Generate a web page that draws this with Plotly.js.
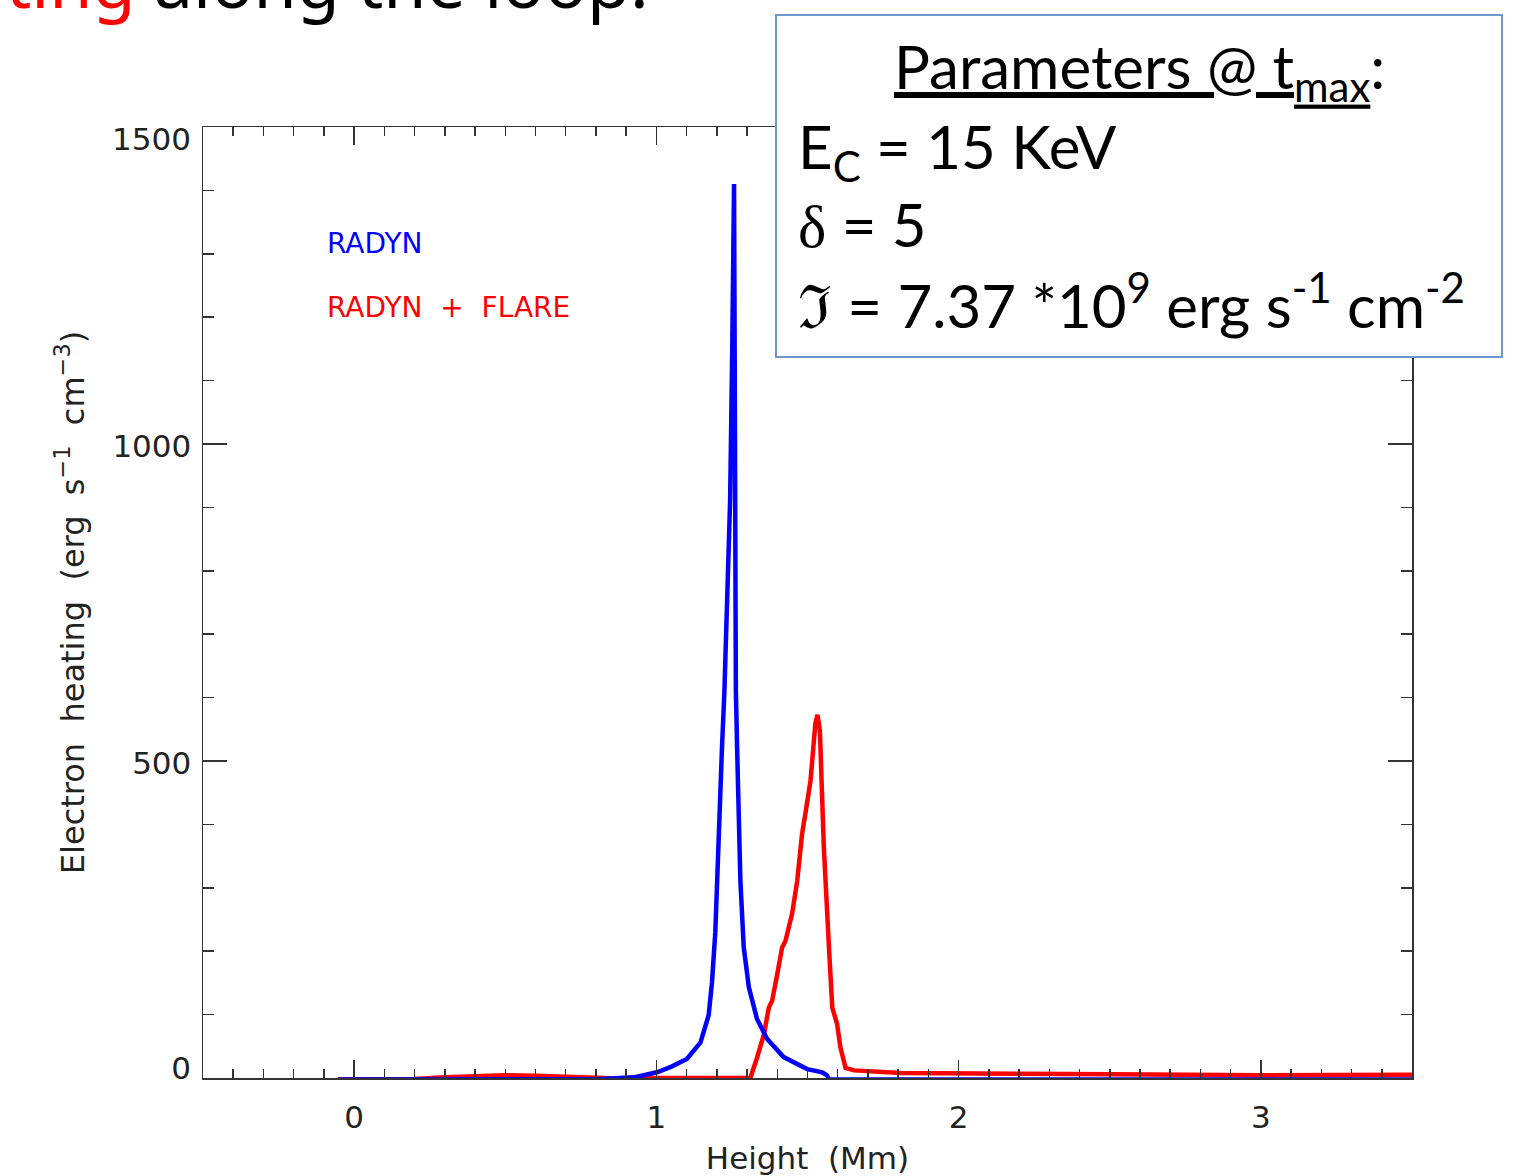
<!DOCTYPE html>
<html>
<head>
<meta charset="utf-8">
<script src="https://cdn.plot.ly/plotly-3.0.1.min.js"></script>
<style>html,body{margin:0;padding:0;background:#fff;}#chart{width:1540px;height:1176px;}</style>
</head>
<body>
<div id="chart"></div>
<script>
// ---- data ----
const radynHeight = [-0.053, 0.2, 0.5, 0.7, 0.815, 0.925, 1.002, 1.05, 1.101, 1.146, 1.173, 1.184, 1.195, 1.201, 1.206, 1.217, 1.225, 1.236, 1.244, 1.251, 1.257, 1.259, 1.261, 1.263, 1.267, 1.273, 1.278, 1.289, 1.306, 1.333, 1.366, 1.421, 1.499, 1.549, 1.565, 1.571, 2.0, 2.5, 3.0, 3.5];
const radynHeat   = [-2.5, -2.5, -2.5, -2.5, -1.5, 1, 9, 18, 30, 56, 99, 151, 230, 309, 388, 520, 609, 760, 911, 1150, 1410, 1150, 800, 611, 522, 417, 311, 206, 143, 93, 62, 33, 14, 9, 4, -2.5, -2.5, -2.5, -2.5, -2.5];

const flareHeight = [-0.053, 0.2, 0.3, 0.4, 0.5, 0.6, 0.7, 0.8, 0.9, 1.0, 1.2, 1.311, 1.333, 1.356, 1.372, 1.383, 1.400, 1.416, 1.427, 1.449, 1.466, 1.482, 1.493, 1.510, 1.526, 1.533, 1.541, 1.554, 1.571, 1.582, 1.598, 1.609, 1.626, 1.654, 1.808, 2.0, 2.5, 3.0, 3.2, 3.5];
const flareHeat   = [-2, -1.5, 1, 3.5, 4.5, 3.5, 1.5, 0, -1, 0, 0, 0, 32, 69, 111, 122, 164, 206, 216, 259, 311, 385, 417, 469, 559, 573, 548, 364, 206, 111, 85, 48, 16, 12, 8, 7, 6, 4.5, 4.5, 5];

const xTickVals = [0, 1, 2, 3];
const yTickVals = [0, 500, 1000, 1500];
const yTickMid = ['', '500', '1000', ''];
const yTickBottom = [0];
const yTickTop = [1500];
const seriesNames = ['RADYN', 'RADYN + FLARE'];

// ---- pixel -> paper helpers for overlay text/box ----
const L = 203, T = 127, W = 1209, H = 951;
const px = x => (x - L) / W;
const py = y => (T + H - y) / H;

const axisFont = {family: 'DejaVu Sans', size: 31, color: '#222'};
const boxFont = {family: 'Lato, "Open Sans", sans-serif', size: 60, color: '#000'};

const traces = [
  {x: flareHeight, y: flareHeat, name: seriesNames[1], type: 'scatter', mode: 'lines',
   line: {color: '#ff0000', width: 4.5}, cliponaxis: false},
  {x: radynHeight, y: radynHeat, name: seriesNames[0], type: 'scatter', mode: 'lines',
   line: {color: '#0000ff', width: 4.5}, cliponaxis: false},
  // empty carriers so the label-only overlay axes get drawn
  {x: [], y: [], yaxis: 'y2', type: 'scatter', mode: 'lines', hoverinfo: 'skip', showlegend: false},
  {x: [], y: [], yaxis: 'y3', type: 'scatter', mode: 'lines', hoverinfo: 'skip', showlegend: false}
];

const tickCommon = {ticks: 'inside', tickcolor: '#333', tickwidth: 1.5, showline: true,
  linecolor: '#333', linewidth: 1.5, mirror: 'ticks', showgrid: false, zeroline: false,
  tickfont: axisFont};

// overlay y axes that only carry the shifted edge labels (IDL places them inside the frame)
const labelOnly = (vals, shift) => ({
  overlaying: 'y', anchor: 'x', side: 'left', range: [0, 1500], tickmode: 'array', tickvals: vals,
  ticks: '', showline: false, showgrid: false, zeroline: false, tickfont: axisFont,
  ticklabelstandoff: 11, ticklabelshift: shift
});

const layout = {
  width: 1540, height: 1176,
  margin: {l: L, r: 1540 - L - W, t: T, b: 1176 - T - H, pad: 0},
  paper_bgcolor: '#fff', plot_bgcolor: '#fff',
  showlegend: false,
  xaxis: Object.assign({}, tickCommon, {
    range: [-0.5, 3.5], tickvals: xTickVals, ticklen: 18, ticklabelstandoff: 11,
    minor: {dtick: 0.1, tick0: 0, ticks: 'inside', ticklen: 9, tickwidth: 1.5, tickcolor: '#333', showgrid: false},
    title: {text: 'Height\u00a0\u00a0(Mm)', font: {family: 'DejaVu Sans', size: 31, color: '#222'}, standoff: 33}
  }),
  yaxis: Object.assign({}, tickCommon, {
    range: [0, 1500], tickvals: yTickVals, ticktext: yTickMid, ticklen: 24,
    ticklabelstandoff: 4, ticklabelshift: 2,
    minor: {dtick: 100, tick0: 0, ticks: 'inside', ticklen: 11, tickwidth: 1.5, tickcolor: '#333', showgrid: false},
    title: {text: 'Electron\u00a0\u00a0heating\u00a0\u00a0(erg\u00a0\u00a0s<sup>\u22121</sup>\u00a0\u00a0cm<sup>\u22123</sup>)', font: {family: 'DejaVu Sans', size: 32, color: '#222'}, standoff: 18}
  }),
  yaxis2: labelOnly(yTickBottom, -10),
  yaxis3: labelOnly(yTickTop, 12),
  shapes: [
    {type: 'rect', xref: 'paper', yref: 'paper', x0: px(776), x1: px(1502), y0: py(357), y1: py(15),
     fillcolor: '#ffffff', line: {color: '#6d97cf', width: 2}, layer: 'above'}
  ],
  annotations: [
    // clipped slide heading at the top
    {xref: 'paper', yref: 'paper', x: px(5), y: py(-19), xanchor: 'left', yanchor: 'middle', showarrow: false, borderpad: 0,
     text: '<span style="color:#ff0000">ting</span> along the loop.', font: {family: 'Noto Sans', size: 70, color: '#000'}},
    // legend labels
    {xref: 'paper', yref: 'paper', x: px(326), y: py(243), xanchor: 'left', yanchor: 'middle', showarrow: false, borderpad: 0,
     text: seriesNames[0], font: {family: 'DejaVu Sans', size: 28, color: '#0000ff'}},
    {xref: 'paper', yref: 'paper', x: px(326), y: py(307), xanchor: 'left', yanchor: 'middle', showarrow: false, borderpad: 0,
     text: 'RADYN\u00a0\u00a0+\u00a0\u00a0FLARE', font: {family: 'DejaVu Sans', size: 28, color: '#ff0000'}},
    // parameter box text
    {xref: 'paper', yref: 'paper', x: px(1139), y: py(71), xanchor: 'center', yanchor: 'middle', showarrow: false, borderpad: 0,
     text: '<u>Parameters @ t</u><sub><u>max</u></sub>:', font: boxFont},
    {xref: 'paper', yref: 'paper', x: px(797), y: py(151), xanchor: 'left', yanchor: 'middle', showarrow: false, borderpad: 0,
     text: 'E<sub>C</sub> = 15 KeV', font: boxFont},
    {xref: 'paper', yref: 'paper', x: px(797), y: py(224), xanchor: 'left', yanchor: 'middle', showarrow: false, borderpad: 0,
     text: '<span style="font-family:\'Liberation Serif\'">\u03b4</span> = 5', font: boxFont},
    {xref: 'paper', yref: 'paper', x: px(797), y: py(301), xanchor: 'left', yanchor: 'middle', showarrow: false, borderpad: 0,
     text: '\u2111 = 7.37 *10<sup>9</sup> erg s<sup>-1</sup> cm<sup>-2</sup>', font: boxFont}
  ]
};

Plotly.newPlot('chart', traces, layout, {staticPlot: true, displayModeBar: false});
</script>
</body>
</html>
